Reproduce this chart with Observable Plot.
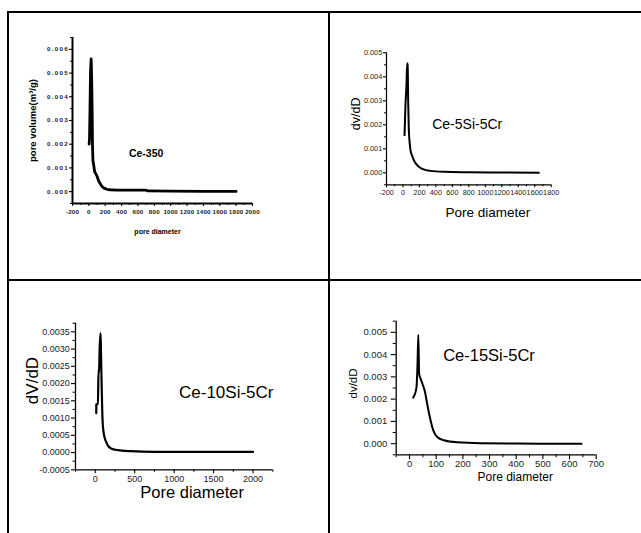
<!DOCTYPE html>
<html><head><meta charset="utf-8">
<script src="https://cdn.jsdelivr.net/npm/d3@7"></script>
<script src="https://cdn.jsdelivr.net/npm/@observablehq/plot@0.6"></script>
<style>
html,body{margin:0;padding:0;background:#fff;}
#fig{position:relative;width:641px;height:533px;overflow:hidden;font-family:"Liberation Sans",Arial,sans-serif;}
.cell{position:absolute;}
.b{position:absolute;background:#000;}
#p1 [aria-label="y-axis tick label"] text{letter-spacing:1.3px;}
#p1 [aria-label="x-axis tick label"] text{letter-spacing:0.2px;}
</style></head><body><div id="fig"></div>
<script>
// ---------- Data ----------
// Panel 1: Ce-350
const x1 = [3, 8, 14, 20, 28, 34, 40, 44, 50, 60, 70, 85, 100, 120, 140, 160, 185, 220, 260, 340, 500, 700, 720, 1000, 1400, 1800];
const y1 = [0.0020, 0.0022, 0.0035, 0.0050, 0.0056, 0.0048, 0.0035, 0.0020, 0.0013, 0.0011, 0.00085, 0.00075, 0.00065, 0.00045, 0.00033, 0.00022, 0.00015, 0.0001, 0.00008, 0.00006, 0.00006, 0.00006, 0.00003, 0.00002, 0.00001, 0.00001];
// Panel 2: Ce-5Si-5Cr
const x2 = [19, 30, 43, 51, 57, 63, 71, 80, 91, 110, 132, 160, 192, 250, 334, 500, 800, 1200, 1650];
const y2 = [0.00157, 0.0028, 0.0037, 0.00456, 0.0045, 0.0030, 0.0018, 0.0013, 0.00095, 0.00072, 0.00053, 0.00037, 0.00025, 0.00014, 0.00008, 0.00004, 0.00002, 0.00001, 0.0];
// Panel 3: Ce-10Si-5Cr
const x3 = [13, 14, 34, 42, 48, 56, 67, 72, 80, 93, 105, 118, 140, 161, 200, 287, 450, 750, 1200, 1600, 2000];
const y3 = [0.00114, 0.0014, 0.00141, 0.0024, 0.0023, 0.0030, 0.00346, 0.0030, 0.0021, 0.00093, 0.0006, 0.00044, 0.0003, 0.0002, 0.00012, 0.00007, 0.00004, 0.00002, 0.00002, 0.00002, 0.00002];
// Panel 4: Ce-15Si-5Cr
const x4 = [14, 26, 30, 33, 36, 42, 48, 58, 66, 76, 89, 104, 129, 179, 267, 400, 520, 645];
const y4 = [0.00207, 0.00252, 0.0036, 0.00488, 0.00315, 0.0029, 0.0027, 0.00232, 0.0018, 0.0012, 0.0006, 0.0003, 0.00015, 0.00006, 0.00002, 0.00001, 0.0, 0.0];

// ---------- Ticks ----------
const xt1 = [-200, 0, 200, 400, 600, 800, 1000, 1200, 1400, 1600, 1800, 2000];
const xm1 = [-100, 100, 300, 500, 700, 900, 1100, 1300, 1500, 1700, 1900];
const yt1 = [0, 0.001, 0.002, 0.003, 0.004, 0.005, 0.006];
const ym1 = [-0.0005, 0.0005, 0.0015, 0.0025, 0.0035, 0.0045, 0.0055, 0.0065];

const xt2 = [-200, 0, 200, 400, 600, 800, 1000, 1200, 1400, 1600, 1800];
const xm2 = [-100, 100, 300, 500, 700, 900, 1100, 1300, 1500, 1700];
const yt2 = [0, 0.001, 0.002, 0.003, 0.004, 0.005];
const ym2 = [-0.0005, 0.0005, 0.0015, 0.0025, 0.0035, 0.0045];

const xt3 = [0, 500, 1000, 1500, 2000];
const xm3 = [-250, 250, 750, 1250, 1750, 2250];
const yt3 = [-0.0005, 0, 0.0005, 0.001, 0.0015, 0.002, 0.0025, 0.003, 0.0035];
const ym3 = [-0.00025, 0.00025, 0.00075, 0.00125, 0.00175, 0.00225, 0.00275, 0.00325, 0.00375];

const xt4 = [0, 100, 200, 300, 400, 500, 600, 700];
const xm4 = [-50, 50, 150, 250, 350, 450, 550, 650];
const yt4 = [0, 0.001, 0.002, 0.003, 0.004, 0.005];
const ym4 = [-0.0005, 0.0005, 0.0015, 0.0025, 0.0035, 0.0045, 0.0055];

// ---------- Labels ----------
const names = ["Ce-350", "Ce-5Si-5Cr", "Ce-10Si-5Cr", "Ce-15Si-5Cr"];
const yLabels = ["pore volume(m³/g)", "dv/dD", "dV/dD", "dv/dD"];
const xLabels = ["pore diameter", "Pore diameter", "Pore diameter", "Pore diameter"];

const panels = [
  {id:"p1", left:10, top:14, w:317, h:265, mL:62, mR:75, mT:23, mB:76,
   xd:[-200,2000], yd:[-0.0005,0.0065], x:x1, y:y1, xt:xt1, xm:xm1, yt:yt1, ym:ym1, dec:3,
   tf:6.2, fw:"bold", tc:"#1a1a1a", ts:3, ms:2, xpad:3.3, ypad:0.5, aw:2, lw:2.8, curve:"linear",
   name:names[0], nx:700, ny:0.0016, nf:10.5, nw:"bold",
   yl:yLabels[0], yldx:-40, yldy:0, ylf:9.5, ylw:"bold",
   xl:xLabels[0], xldx:-5, xldy:28, xlf:7, xlw:"bold"},
  {id:"p2", left:331, top:14, w:310, h:265, mL:55, mR:90.3, mT:38.3, mB:94.7,
   xd:[-200,1800], yd:[-0.0005,0.005], x:x2, y:y2, xt:xt2, xm:xm2, yt:yt2, ym:ym2, dec:3,
   tf:7.3, fw:"normal", tc:"#222", ts:3, ms:2, xpad:2.3, ypad:1.3, aw:1.2, lw:2, curve:"monotone-x",
   name:names[1], nx:780, ny:0.002, nf:14, nw:"normal",
   yl:yLabels[1], yldx:-31, yldy:-5, ylf:12.5, ylw:"normal",
   xl:xLabels[1], xldx:19, xldy:27.4, xlf:13.5, xlw:"normal"},
  {id:"p3", left:10, top:282, w:317, h:251, mL:65, mR:54.7, mT:40.7, mB:63.7,
   xd:[-250,2250], yd:[-0.0005,0.00375], x:x3, y:y3, xt:xt3, xm:xm3, yt:yt3, ym:ym3, dec:4,
   tf:9, fw:"normal", tc:"#222", ts:4, ms:2.5, xpad:1.5, ypad:1.7, aw:1.3, lw:2.2, curve:"monotone-x",
   name:names[2], nx:1660, ny:0.00175, nf:17, nw:"normal",
   yl:yLabels[2], yldx:-43, yldy:-16, ylf:17, ylw:"normal",
   xl:xLabels[2], xldx:18, xldy:23, xlf:16.5, xlw:"normal"},
  {id:"p4", left:331, top:282, w:310, h:251, mL:64.7, mR:45.3, mT:38.7, mB:78.7,
   xd:[-50,700], yd:[-0.0005,0.0055], x:x4, y:y4, xt:xt4, xm:xm4, yt:yt4, ym:ym4, dec:3,
   tf:9.5, fw:"normal", tc:"#222", ts:5, ms:3, xpad:0.8, ypad:4, aw:1.3, lw:2, curve:"monotone-x",
   name:names[3], nx:298, ny:0.00393, nf:16.5, nw:"normal",
   yl:yLabels[3], yldx:-43, yldy:-4.5, ylf:11.5, ylw:"normal",
   xl:xLabels[3], xldx:19, xldy:22.4, xlf:12, xlw:"normal"}
];

const fig = document.getElementById("fig");
for (const c of panels) {
  const data = c.x.map((x, i) => ({x, y: c.y[i]}));
  const chart = Plot.plot({
    width: c.w, height: c.h,
    marginLeft: c.mL, marginRight: c.mR, marginTop: c.mT, marginBottom: c.mB,
    x: {domain: c.xd, axis: null},
    y: {domain: c.yd, axis: null},
    style: {fontFamily: '"Liberation Sans", Arial, sans-serif', background: "transparent", overflow: "visible", color: "#000"},
    marks: [
      Plot.axisX({ticks: c.xm, tickSize: c.ms, fill: "none", strokeWidth: 1, label: null}),
      Plot.axisY({ticks: c.ym, tickSize: c.ms, fill: "none", strokeWidth: 1, label: null}),
      Plot.axisX({ticks: c.xt, tickSize: c.ts, tickPadding: c.xpad, strokeWidth: 1.1, tickFormat: d => String(d),
        fontSize: c.tf, fontWeight: c.fw, fill: c.tc, label: null}),
      Plot.axisY({ticks: c.yt, tickSize: c.ts, tickPadding: c.ypad, strokeWidth: 1.1, tickFormat: d => d.toFixed(c.dec),
        fontSize: c.tf, fontWeight: c.fw, fill: c.tc, label: null}),
      Plot.ruleX([c.xd[0]], {strokeWidth: c.aw}),
      Plot.ruleY([c.yd[0]], {strokeWidth: c.aw}),
      Plot.line(data, {x: "x", y: "y", stroke: "#000", strokeWidth: c.lw, curve: c.curve}),
      Plot.text([{x: c.nx, y: c.ny, t: c.name}], {x: "x", y: "y", text: "t", fontSize: c.nf, fontWeight: c.nw,
        textAnchor: "middle", lineAnchor: "middle", fill: "#000"}),
      Plot.text([{t: c.yl}], {text: "t", frameAnchor: "left", rotate: -90, dx: c.yldx, dy: c.yldy,
        textAnchor: "middle", lineAnchor: "middle", fontSize: c.ylf, fontWeight: c.ylw, fill: "#000"}),
      Plot.text([{t: c.xl}], {text: "t", frameAnchor: "bottom", dx: c.xldx, dy: c.xldy,
        textAnchor: "middle", lineAnchor: "middle", fontSize: c.xlf, fontWeight: c.xlw, fill: "#000"})
    ]
  });
  const div = document.createElement("div");
  div.className = "cell";
  div.id = c.id;
  div.style.left = c.left + "px";
  div.style.top = c.top + "px";
  div.style.width = c.w + "px";
  div.style.height = c.h + "px";
  div.appendChild(chart);
  fig.appendChild(div);
}
// table borders
const borders = [
  {l:7, t:11, w:634, h:2},
  {l:7, t:11, w:2, h:522},
  {l:328, t:11, w:2, h:522},
  {l:7, t:279, w:634, h:2}
];
for (const b of borders) {
  const d = document.createElement("div");
  d.className = "b";
  d.style.left = b.l + "px"; d.style.top = b.t + "px";
  d.style.width = b.w + "px"; d.style.height = b.h + "px";
  fig.appendChild(d);
}
</script></body></html>
